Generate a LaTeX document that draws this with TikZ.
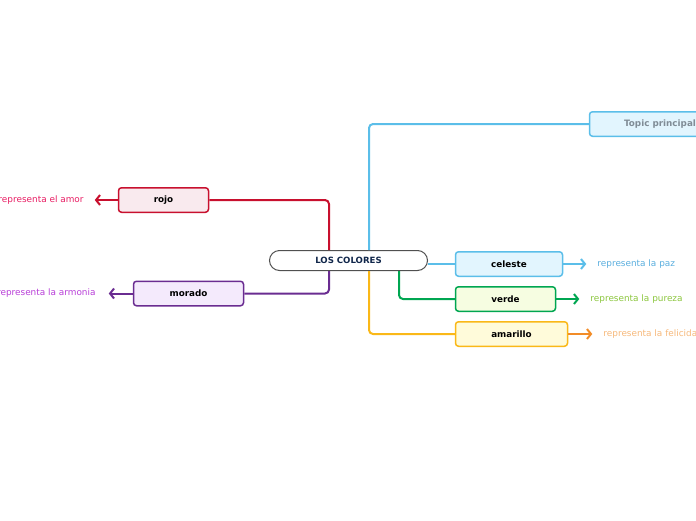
\documentclass[tikz,border=0pt]{standalone}
\usepackage{fontspec}
\setmainfont{DejaVu Sans}
\usetikzlibrary{arrows.meta, positioning}
\tikzset{
    rootbox/.style={rectangle, draw=rootline, fill=white, rounded corners=10pt, minimum width=158pt, minimum height=20pt, line width=1pt, text=rootnavy, font=\fontsize{8.6}{10}\selectfont\bfseries},
    topicbox/.style={rectangle, draw=#1, fill=#1fill, rounded corners=3pt, minimum height=24.5pt, line width=1.5pt, inner sep=0pt, font=\fontsize{8.8}{10}\selectfont\bfseries},
    topiclink/.style={draw=#1, line width=2pt, rounded corners=4pt},
    leafarrow/.style={draw=#1, line width=2pt, -{Straight Barb[length=4pt, width=10pt]}},
    leaftext/.style={text=#1, inner sep=0pt, font=\fontsize{8.9}{10}\selectfont}
}
\definecolor{rootline}{RGB}{80,80,80}
\definecolor{rootnavy}{RGB}{16,38,74}
\definecolor{rojo}{RGB}{200,16,46}
\definecolor{rojofill}{RGB}{249,234,238}
\definecolor{morado}{RGB}{106,44,145}
\definecolor{moradofill}{RGB}{244,234,252}
\definecolor{celeste}{RGB}{91,190,233}
\definecolor{celestefill}{RGB}{226,245,254}
\definecolor{verde}{RGB}{0,166,81}
\definecolor{verdefill}{RGB}{246,253,225}
\definecolor{amarillo}{RGB}{250,184,24}
\definecolor{amarillofill}{RGB}{255,251,218}
\definecolor{naranja}{RGB}{242,140,40}
\definecolor{topicgray}{RGB}{128,140,150}
\definecolor{amortext}{RGB}{232,30,100}
\definecolor{armoniatext}{RGB}{184,62,216}
\definecolor{paztext}{RGB}{90,174,222}
\definecolor{purezatext}{RGB}{140,198,63}
\definecolor{felicidadtext}{RGB}{246,184,122}

\begin{document}
\begin{tikzpicture}[x=1pt, y=-1pt]
\clip (0,0) rectangle (696,520);

\node[rootbox] (root) at (348.5,260.5) {LOS COLORES};

% main topics
\node[topicbox=celeste, minimum width=141pt, text=topicgray] (topic) at (660,124) {Topic principal};
\node[topicbox=rojo, minimum width=90pt] (rojo) at (163.5,200) {rojo};
\node[topicbox=morado, minimum width=110pt] (morado) at (188.5,293.5) {morado};
\node[topicbox=celeste, minimum width=107pt] (celeste) at (509,264) {celeste};
\node[topicbox=verde, minimum width=100pt] (verde) at (505.5,299) {verde};
\node[topicbox=amarillo, minimum width=112pt] (amarillo) at (511.5,334) {amarillo};

% leaves
\node[leaftext=amortext, left=34pt of rojo] (amor) {representa el amor};
\node[leaftext=armoniatext, left=37pt of morado] (armonia) {representa la armonia};
\node[leaftext=paztext, right=34pt of celeste] (paz) {representa la paz};
\node[leaftext=purezatext, right=34pt of verde] (pureza) {representa la pureza};
\node[leaftext=felicidadtext, right=35pt of amarillo] (felicidad) {representa la felicidad};

% links
\draw[topiclink=celeste] ([xshift=20.5pt]root.north) |- (topic.west);
\draw[topiclink=rojo] ([xshift=-19.5pt]root.north) |- (rojo.east);
\draw[topiclink=morado] ([xshift=-19.5pt]root.south) |- (morado.east);
\draw[topiclink=celeste] (root.east |- celeste.west) -- (celeste.west);
\draw[topiclink=verde] ([xshift=50.5pt]root.south) |- (verde.west);
\draw[topiclink=amarillo] ([xshift=20.5pt]root.south) |- (amarillo.west);

\draw[leafarrow=rojo, shorten >=11pt] (rojo.west) -- (amor.east);
\draw[leafarrow=morado, shorten >=13pt] (morado.west) -- (armonia.east);
\draw[leafarrow=celeste, shorten >=11pt] (celeste.east) -- (paz.west);
\draw[leafarrow=verde, shorten >=11pt] (verde.east) -- (pureza.west);
\draw[leafarrow=naranja, shorten >=11pt] (amarillo.east) -- (felicidad.west);

\end{tikzpicture}
\end{document}
